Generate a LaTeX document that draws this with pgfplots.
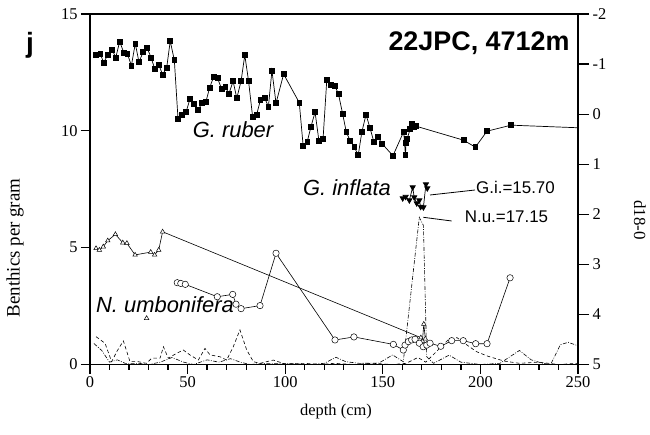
\documentclass[border=0pt]{standalone}
\usepackage{pgfplots}
\pgfplotsset{compat=1.18}
\usepackage{fontspec}
\setmainfont{Liberation Serif}
\setsansfont{Liberation Sans}
\begin{document}
\begin{tikzpicture}
\useasboundingbox (-90bp,-70.5bp) rectangle (560bp,364.5bp);
\pgfplotsset{
  base/.style={
    width=488bp, height=350.5bp, scale only axis,
    xmin=0, xmax=250,
    axis line style={line width=1.6bp},
    tick style={line width=1.3bp, black},
    tick align=outside,
    major tick length=9bp, minor tick length=5bp,
    tick label style={font=\fontsize{16.5}{18}\selectfont},
    /pgf/number format/assume math mode=true,
    clip=true,
  }
}
\begin{axis}[base,
  ymin=0, ymax=15,
  xtick={0,50,...,250}, minor x tick num=4,
  ytick={0,5,10,15},
  xtick pos=left, ytick pos=left,
]
% dashed benthic series
\addplot[black, line width=0.6bp, dash pattern=on 3.5bp off 2.5bp] coordinates {
(3.1,1.19)(7.7,0.91)(11.1,0.12)(13.7,0.55)(17.1,1.01)(20.5,0.12)(24.7,0.12)(29.0,0.05)
(31.6,0.27)(35.9,0.27)(37.6,0.76)(40.1,0.27)(44.4,0.48)(47.8,0.62)(51.2,0.41)(55.5,0.19)
(58.9,0.69)(61.5,0.41)(66.6,0.33)(70.0,0.19)(73.4,0.76)(76.8,1.48)(80.3,0.62)(83.7,0.12)
(87.1,0.05)(90.5,0.12)(93.9,0.19)(100,0.02)(110,0.05)(118,0.0)(125,0.05)(135,0.0)
(145,0.05)(155,0.0)(162,0.05)(168,0.3)(172,0.1)(178,0.6)(184,1.1)(188,1.15)(192,0.9)
(198,0.55)(204,0.35)(212,0.15)(220,0.05)(230,0.1)(240,0.0)(250,0.05)
};
% dash-dot benthic series
\addplot[black, line width=0.6bp, dash pattern=on 4bp off 1.5bp on 0.8bp off 1.5bp] coordinates {
(2,0.9)(6,0.6)(10,0.1)(14,0.2)(18,0.05)(25,0.05)(30,0.0)(36,0.1)(42,0.3)(48,0.1)
(53,0.0)(60,0.2)(66,0.1)(72,0.25)(77,0.1)(82,0.0)(90,0.05)(100,0.05)(112,0.0)(120,0.05)
(126,0.31)(131,0.12)(138,0.05)(148,0.06)(155,0.41)(160.5,0.12)(168.7,6.3)(170.8,5.95)
(172.5,0.33)(176,0.05)(184,0.4)(190,0.1)(200,0.0)(210,0.05)(220,0.6)(226,0.2)(232,0.05)
(236,0.0)(241,0.85)(245,0.95)(250,0.8)
};
% triangles (open)
\addplot[black, line width=0.6bp, mark=triangle*, mark size=2.6bp,
  mark options={fill=white, line width=0.5bp}] coordinates {
(3.1,4.97)(4.8,4.90)(6.8,5.04)(9.1,5.30)(13.0,5.57)(16.8,5.21)(18.9,5.19)(23.1,4.69)
(31.1,4.81)(33.1,4.69)(35.2,4.90)(37.2,5.68)(169.5,1.15)(170.3,1.0)(171.0,1.73)(171.8,1.1)
};
\addplot[black, only marks, mark=triangle*, mark size=2.6bp,
  mark options={fill=white, line width=0.5bp}] coordinates {(29.0,1.98)};
% circles N. umbonifera
\addplot[black, line width=0.6bp, mark=*, mark size=3.2bp,
  mark options={fill=white, line width=0.5bp}] coordinates {
(44.7,3.50)(46.5,3.47)(48.8,3.43)(65.2,2.90)(73.1,3.00)(74.8,2.58)(77.4,2.39)(87.1,2.52)
(95.3,4.76)(125.5,1.05)(135.2,1.18)(155.4,0.86)(160.5,0.62)(161.4,0.83)(163.1,0.98)
(164.8,1.05)(166.5,1.08)(168.7,0.91)(170.7,0.76)(172.5,0.83)(174.2,0.91)(179.7,0.78)
(185.3,1.02)(191.2,1.02)(197.6,0.89)(203.4,0.89)(215.2,3.71)
};
\end{axis}
\begin{axis}[base,
  ymin=-2, ymax=5, y dir=reverse,
  axis x line=none, axis y line*=right,
  ytick={-2,-1,...,5},
  major tick length=11bp,
]
% G. ruber
\addplot[black, line width=0.7bp, mark=square*, mark size=2.4bp] coordinates {
(3.2,-1.18)(5.3,-1.20)(7.0,-1.03)(9.2,-1.19)(11.3,-1.29)(13.2,-1.13)(15.2,-1.45)(17.3,-1.23)
(19.1,-1.21)(21.2,-0.97)(23.2,-1.41)(25.1,-1.04)(27.2,-1.24)(29.2,-1.33)(31.3,-1.13)(33.1,-0.91)
(35.2,-0.99)(37.2,-0.79)(39.3,-0.93)(41.1,-1.46)(43.2,-1.08)(45.1,0.10)(47.1,0.02)(49.2,-0.04)
(51.2,-0.30)(53.3,-0.21)(55.3,-0.08)(57.4,-0.22)(59.4,-0.25)(61.3,-0.53)(63.3,-0.74)(65.3,-0.72)
(67.4,-0.51)(69.3,-0.54)(71.2,-0.41)(73.3,-0.66)(75.2,-0.32)(77.4,-0.66)(79.3,-1.18)(81.2,-0.67)
(83.3,0.05)(85.3,0.02)(87.3,-0.28)(89.4,-0.33)(91.4,-0.15)(93.2,-0.87)(95.3,-0.22)(99.2,-0.80)
(107.2,-0.23)(109.2,0.63)(111.3,0.55)(113.2,0.25)(115.3,-0.04)(117.3,0.54)(119.4,0.49)(121.3,-0.68)
(123.3,-0.58)(125.4,-0.57)(127.3,-0.40)(129.4,-0.01)(131.3,0.36)(133.3,0.53)(135.4,0.66)(137.4,0.82)
(139.3,0.35)(141.4,0.01)(143.4,0.27)(145.4,0.55)(147.4,0.45)(149.6,0.59)(155.2,0.83)(160.7,0.35)
(161.6,0.82)(161.9,0.58)(162.4,0.50)(164.0,0.30)(164.8,0.20)(165.7,0.25)(167.0,0.24)(191.4,0.52)
(197.4,0.66)(203.4,0.34)(215.7,0.22)(262,0.29)
};
% G. inflata
\addplot[black, line width=0.7bp, mark=triangle*, mark size=3bp, mark options={rotate=180}] coordinates {
(160.2,1.68)(161.7,1.65)(163.6,1.72)(165.3,1.46)(166.1,1.66)(167.4,1.78)(168.7,1.72)
(169.4,1.85)(170.8,1.86)(172.1,1.40)(172.8,1.48)
};
\end{axis}
% annotations (absolute coordinates, axis SW corner at origin)
\node[font=\sffamily\bfseries\fontsize{28}{30}\selectfont] at (-60bp,319bp) {j};
\node[font=\sffamily\bfseries\fontsize{27}{29}\selectfont] at (389bp,321.5bp) {22JPC, 4712m};
\node[font=\sffamily\itshape\fontsize{22}{24}\selectfont] at (143bp,234.5bp) {G. ruber};
\node[font=\sffamily\itshape\fontsize{22}{24}\selectfont] at (257bp,176.5bp) {G. inflata};
\node[font=\sffamily\itshape\fontsize{22}{24}\selectfont] at (75bp,59.5bp) {N. umbonifera};
\node[font=\sffamily\fontsize{17}{19}\selectfont] at (425.5bp,177.5bp) {G.i.=15.70};
\node[font=\sffamily\fontsize{17}{19}\selectfont] at (416.5bp,147.5bp) {N.u.=17.15};
\draw[line width=0.8bp] (340bp,169.5bp) -- (385bp,174.5bp);
\draw[line width=0.8bp] (333.3bp,147.2bp) -- (361.7bp,143.5bp);
\node[rotate=90, font=\fontsize{19}{21}\selectfont] at (-75bp,116.5bp) {Benthics per gram};
\node[rotate=-90, font=\fontsize{17}{19}\selectfont] at (550bp,144.5bp) {d18-0};
\node[font=\fontsize{16.5}{18}\selectfont] at (246bp,-47.5bp) {depth (cm)};
\end{tikzpicture}
\end{document}
